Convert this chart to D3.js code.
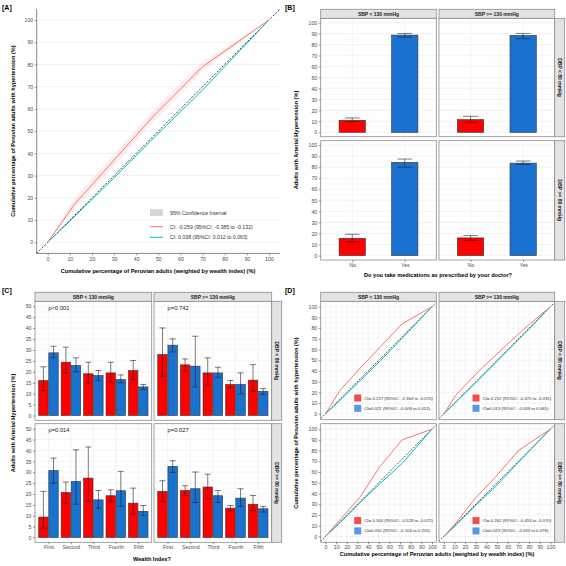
<!DOCTYPE html>
<html><head><meta charset="utf-8">
<script src="https://cdn.jsdelivr.net/npm/d3@7"></script>
<style>body{margin:0;background:#fff}text{font-family:"Liberation Sans",Arial,sans-serif}</style>
</head><body><svg id="c" width="566" height="566"></svg>
<script>
// ---------- DATA ----------
// Panel A (concentration curves)
const aX      = [0, 12, 30, 48, 70, 100];
const aRed    = [0, 17, 37, 57, 79, 100];
const aRedLo  = [0, 15, 34.5, 54.5, 77, 100];
const aRedHi  = [0, 19.5, 39.5, 59.5, 81, 100];
const aBlue   = [0, 11.5, 29, 47, 68.5, 100];
const aLegend = ["95% Confidence Interval", "CI: -0.259 (95%CI: -0.385 to -0.132)", "CI: 0.038 (95%CI: 0.012 to 0.063)"];
const axisTicks100 = [0,10,20,30,40,50,60,70,80,90,100];

// Facet labels
const sbpLevels = ["SBP < 130 mmHg", "SBP >= 130 mmHg"];
const dbpLevels = ["DBP < 80 mmHg", "DBP >= 80 mmHg"];

// Panel B: [row][col] -> [No, Yes]
const medCats = ["No", "Yes"];
const bVal = [[[11.0, 88.7], [11.6, 88.4]], [[15.6, 84.4], [16.0, 83.7]]];
const bLo  = [[[9.8, 86.9], [9.1, 85.4]],  [[12.3, 80.0], [13.8, 82.5]]];
const bHi  = [[[13.1, 90.2], [14.6, 90.2]], [[19.3, 87.4], [18.1, 85.6]]];

// Panel C: [row][col] -> per wealth quintile
const wealthCats = ["First", "Second", "Third", "Fourth", "Fifth"];
const cTicks = [0,5,10,15,20,25,30,35,40,45,50];
const cRedVal = [[[16,24.4,19.1,19.5,20.6],[27.9,23.2,19.5,14.2,16.2]],[[9.4,20.7,27.3,19.2,15.8],[21.2,21.6,23.2,13.5,15.3]]];
const cRedLo  = [[[11.4,19.5,14.5,15.4,16.5],[18,20.3,13.9,12.7,11.1]],[[4.3,15.8,16.6,16.6,10.7],[16.6,19.3,17.8,12.3,12.4]]];
const cRedHi  = [[[22.3,31.3,24.4,24.4,25.2],[40.1,25.9,26.4,16,23.3]],[[21.2,25.5,41.6,21.9,22.7],[26.1,23.8,29.1,14.7,19.3]]];
const cBlueVal = [[[28.7,22.9,18.3,16.5,13.1],[32.2,22.6,19.5,14.2,11.1]],[[30.8,25.8,17.3,21.5,12],[32.7,22.4,19.2,18.1,13.2]]];
const cBlueLo  = [[[26.4,20,16,15,11.9],[29.1,13.1,17.5,9.9,9.6]],[[25,15.3,13.5,14.3,10.1],[29.9,16.1,16.1,14.3,11.7]]];
const cBlueHi  = [[[31.7,26.4,20.6,18.6,14.2],[35.1,36.3,22.1,19.5,12.3]],[[36.5,40.3,21.6,30.4,14.7],[35.3,30.1,21.6,22.4,14.3]]];
const cPvals = [["p<0.001", "p=0.742"], ["p=0.014", "p=0.027"]];

// Panel D: [row][col]
const dX    = [[[0,13,31,52,72,100],[0,11,30,50,75,100]],[[0,14,32,51,72,100],[0,11,30,50,70,100]]];
const dRed  = [[[0,21,41,63,84,100],[0,17,37,56,79,100]],[[0,16,36,65,90,100],[0,12,36,57,80,100]]];
const dBlue = [[[0,12,29.5,50,70.5,100],[0,10.5,29,49,74,100]],[[0,13,31,49,68,100],[0,10,29,48,69,100]]];
const dLegRed  = [["CI=-0.217 (95%IC: -0.364 to -0.070)","CI=-0.252 (95%IC: -0.470 to -0.035)"],["CI=-0.300 (95%IC: -0.528 to -0.072)","CI=-0.262 (95%IC: -0.453 to -0.070)"]];
const dLegBlue = [["CI=0.021 (95%IC: -0.009 to 0.052)","CI=0.013 (95%IC: -0.039 to 0.065)"],["CI=0.050 (95%IC: -0.104 to 0.205)","CI=0.023 (95%IC: -0.033 to 0.078)"]];

// ---------- STYLE ----------
const RED_LINE = "#F8766D", BLUE_LINE = "#00BFC4";
const RED_BAR = "#ff0000", BLUE_BAR = "#1a72d0";
const TICK_COL = "#4d4d4d", GRID = "#ebebeb", GRID_MIN = "#f5f5f5";
const BORDER = "#8c8c8c", STRIP_FILL = "#e3e3e3";

const svg = d3.select("#c");
svg.append("rect").attr("width",566).attr("height",566).attr("fill","#fff");

function label(x,y,t){ svg.append("text").attr("x",x).attr("y",y).attr("font-size",7).attr("font-weight","bold").text(t); }
label(2,10,"[A]"); label(285,10,"[B]"); label(2,293,"[C]"); label(285,293,"[D]");

function styleAxis(g){
  g.select(".domain").remove();
  g.selectAll(".tick line").attr("stroke","#333").attr("stroke-width",0.5);
  g.selectAll(".tick text").attr("fill",TICK_COL).attr("font-size",5.2);
}
const line = d3.line();

// ---------- PANEL A ----------
(function(){
  const x = d3.scaleLinear().domain([-5,105]).range([36.7,280]);
  const y = d3.scaleLinear().domain([-5,105]).range([253.4,8.9]);
  const g = svg.append("g");
  g.selectAll(".gl").data(axisTicks100).join("line")
    .attr("x1",36.7).attr("x2",280).attr("y1",d=>y(d)).attr("y2",d=>y(d))
    .attr("stroke",GRID).attr("stroke-width",0.7);
  // ribbon
  const area = d3.area().x((d,i)=>x(aX[i])).y0((d,i)=>y(aRedLo[i])).y1((d,i)=>y(aRedHi[i]));
  g.append("path").datum(aX).attr("d",area).attr("fill",RED_LINE).attr("opacity",0.13);
  g.append("path").attr("d",line([[x(-5),y(-5)],[x(105),y(105)]])).attr("stroke","#222").attr("stroke-width",0.9).attr("stroke-dasharray","2,1.6").attr("fill","none");
  g.append("path").attr("d",line(aX.map((v,i)=>[x(v),y(aBlue[i])]))).attr("stroke",BLUE_LINE).attr("stroke-width",1).attr("fill","none");
  g.append("path").attr("d",line(aX.map((v,i)=>[x(v),y(aRed[i])]))).attr("stroke",RED_LINE).attr("stroke-width",1).attr("fill","none");
  const ax = g.append("g").attr("transform","translate(0,253.4)").call(d3.axisBottom(x).tickValues(axisTicks100).tickSize(2).tickPadding(1.5));
  styleAxis(ax);
  const ay = g.append("g").attr("transform","translate(36.7,0)").call(d3.axisLeft(y).tickValues(axisTicks100).tickSize(2).tickPadding(1.5));
  styleAxis(ay);
  g.append("line").attr("x1",36.7).attr("x2",36.7).attr("y1",8.9).attr("y2",253.4).attr("stroke","#555").attr("stroke-width",0.7);
  g.append("line").attr("x1",36.7).attr("x2",280).attr("y1",253.4).attr("y2",253.4).attr("stroke","#555").attr("stroke-width",0.7);
  g.append("text").attr("x",158).attr("y",273).attr("text-anchor","middle").attr("font-size",5.6).attr("font-weight","bold").text("Cumulative percentage of Peruvian adults (weighted by wealth index) (%)");
  g.append("text").attr("transform","translate(15,131) rotate(-90)").attr("text-anchor","middle").attr("font-size",5.6).attr("font-weight","bold").text("Cumulative percentage of Peruvian adults with hypertension (%)");
  // legend
  g.append("rect").attr("x",150).attr("y",209).attr("width",13).attr("height",7).attr("fill","#d6d6d6");
  g.append("line").attr("x1",150).attr("x2",163).attr("y1",226.7).attr("y2",226.7).attr("stroke",RED_LINE).attr("stroke-width",1);
  g.append("line").attr("x1",150).attr("x2",163).attr("y1",237.3).attr("y2",237.3).attr("stroke",BLUE_LINE).attr("stroke-width",1);
  [214.7,228.7,239.3].forEach((yy,i)=>g.append("text").attr("x",170).attr("y",yy).attr("font-size",5.2).attr("fill","#333").text(aLegend[i]));
})();

// ---------- FACET HELPER ----------
function facet(cfg){
  const g = svg.append("g");
  const panels = [];
  cfg.rows.forEach((ry,r)=>{
    cfg.cols.forEach((cx,c)=>{
      const y = d3.scaleLinear().domain(cfg.yDomain).range([ry[1],ry[0]]);
      const p = {r,c,x0:cx[0],x1:cx[1],y0:ry[0],y1:ry[1],y,g:g.append("g")};
      p.g.append("rect").attr("x",cx[0]).attr("y",ry[0]).attr("width",cx[1]-cx[0]).attr("height",ry[1]-ry[0]).attr("fill","#fff");
      // minor grid
      cfg.yMinor.forEach(v=>p.g.append("line").attr("x1",cx[0]).attr("x2",cx[1]).attr("y1",y(v)).attr("y2",y(v)).attr("stroke",GRID_MIN).attr("stroke-width",0.5));
      cfg.yMajor.forEach(v=>p.g.append("line").attr("x1",cx[0]).attr("x2",cx[1]).attr("y1",y(v)).attr("y2",y(v)).attr("stroke",GRID).attr("stroke-width",0.6));
      panels.push(p);
      if(c===0){
        const ay = g.append("g").attr("transform",`translate(${cx[0]},0)`).call(d3.axisLeft(y).tickValues(cfg.yMajor).tickSize(2).tickPadding(1.5));
        styleAxis(ay);
      }
    });
  });
  // top strips
  cfg.cols.forEach((cx,c)=>{
    g.append("rect").attr("x",cx[0]).attr("y",cfg.strip[0]).attr("width",cx[1]-cx[0]).attr("height",cfg.strip[1]-cfg.strip[0]).attr("fill",STRIP_FILL).attr("stroke",BORDER).attr("stroke-width",0.8);
    g.append("text").attr("x",(cx[0]+cx[1])/2).attr("y",(cfg.strip[0]+cfg.strip[1])/2+1.8).attr("text-anchor","middle").attr("font-size",5).attr("font-weight","bold").attr("fill","#222").text(sbpLevels[c]);
  });
  cfg.rows.forEach((ry,r)=>{
    g.append("rect").attr("x",cfg.side[0]).attr("y",ry[0]).attr("width",cfg.side[1]-cfg.side[0]).attr("height",ry[1]-ry[0]).attr("fill",STRIP_FILL).attr("stroke",BORDER).attr("stroke-width",0.8);
    const cxm=(cfg.side[0]+cfg.side[1])/2, cym=(ry[0]+ry[1])/2;
    g.append("text").attr("transform",`translate(${cxm-1.8},${cym}) rotate(90)`).attr("text-anchor","middle").attr("font-size",5).attr("font-weight","bold").attr("fill","#222").text(dbpLevels[r]);
  });
  g.append("text").attr("x",cfg.xTitle[0]).attr("y",cfg.xTitle[1]).attr("text-anchor","middle").attr("font-size",5.6).attr("font-weight","bold").text(cfg.xTitle[2]);
  g.append("text").attr("transform",`translate(${cfg.yTitle[0]},${cfg.yTitle[1]}) rotate(-90)`).attr("text-anchor","middle").attr("font-size",5.6).attr("font-weight","bold").text(cfg.yTitle[2]);
  return {g,panels,cfg};
}
function borders(f){
  f.panels.forEach(p=>p.g.append("rect").attr("x",p.x0).attr("y",p.y0).attr("width",p.x1-p.x0).attr("height",p.y1-p.y0).attr("fill","none").attr("stroke",BORDER).attr("stroke-width",0.8));
}
function errbar(g,xc,w,ylo,yhi){
  g.append("line").attr("x1",xc).attr("x2",xc).attr("y1",ylo).attr("y2",yhi).attr("stroke","#222").attr("stroke-width",0.6);
  [ylo,yhi].forEach(v=>g.append("line").attr("x1",xc-w/2).attr("x2",xc+w/2).attr("y1",v).attr("y2",v).attr("stroke","#222").attr("stroke-width",0.6));
}

// ---------- PANEL B ----------
(function(){
  const f = facet({cols:[[320.7,436.3],[439,554.7]], rows:[[18.3,136.7],[140.7,260]], strip:[9.3,18.3], side:[554.7,564.7],
    yDomain:[-4,104], yMajor:axisTicks100, yMinor:d3.range(5,100,10),
    xTitle:[438,277,"Do you take medications as prescribed by your doctor?"], yTitle:[298,140,"Adults with Arterial Hypertension (%)"]});
  f.panels.forEach(p=>{
    const x = d3.scalePoint().domain(medCats).range([p.x0,p.x1]).padding(0.6);
    const step = x.step();
    medCats.forEach(cat=>p.g.append("line").attr("x1",x(cat)).attr("x2",x(cat)).attr("y1",p.y0).attr("y2",p.y1).attr("stroke",GRID).attr("stroke-width",0.6));
    medCats.forEach((cat,i)=>{
      const v=bVal[p.r][p.c][i];
      p.g.append("rect").attr("x",x(cat)-step*0.25).attr("width",step*0.5).attr("y",p.y(v)).attr("height",p.y(0)-p.y(v))
        .attr("fill",i===0?RED_BAR:BLUE_BAR).attr("stroke","#333").attr("stroke-width",0.6);
      errbar(p.g,x(cat),step*0.28,p.y(bLo[p.r][p.c][i]),p.y(bHi[p.r][p.c][i]));
    });
    if(p.r===1){
      const ax=f.g.append("g").attr("transform",`translate(0,${p.y1})`).call(d3.axisBottom(x).tickSize(2).tickPadding(1.5));
      styleAxis(ax);
    }
  });
  borders(f);
})();

// ---------- PANEL C ----------
(function(){
  const f = facet({cols:[[35,151.7],[154,271.7]], rows:[[301.3,420.3],[423.7,542.3]], strip:[292.3,301.3], side:[271.7,281.7],
    yDomain:[-2.2,52.3], yMajor:cTicks, yMinor:d3.range(2.5,50,5),
    xTitle:[152,561,"Wealth Index?"], yTitle:[15,423,"Adults with Arterial Hypertension (%)"]});
  f.panels.forEach(p=>{
    const x = d3.scalePoint().domain(wealthCats).range([p.x0,p.x1]).padding(0.6);
    const step = x.step();
    wealthCats.forEach(cat=>p.g.append("line").attr("x1",x(cat)).attr("x2",x(cat)).attr("y1",p.y0).attr("y2",p.y1).attr("stroke",GRID).attr("stroke-width",0.6));
    const series=[[cRedVal,cRedLo,cRedHi,RED_BAR,-0.225],[cBlueVal,cBlueLo,cBlueHi,BLUE_BAR,0.225]];
    series.forEach(([V,L,H,col,off])=>{
      wealthCats.forEach((cat,i)=>{
        const v=V[p.r][p.c][i], xc=x(cat)+off*step;
        p.g.append("rect").attr("x",xc-step*0.21).attr("width",step*0.42).attr("y",p.y(v)).attr("height",p.y(0)-p.y(v))
          .attr("fill",col).attr("stroke","#333").attr("stroke-width",0.6);
      });
    });
    series.forEach(([V,L,H,col,off])=>{
      wealthCats.forEach((cat,i)=>{
        const xc=x(cat)+off*step;
        errbar(p.g,xc,step*0.27,p.y(L[p.r][p.c][i]),p.y(H[p.r][p.c][i]));
      });
    });
    p.g.append("text").attr("x",x(wealthCats[0])).attr("y",p.y0+8.5).attr("font-size",5.8).attr("fill","#222").text(cPvals[p.r][p.c]);
    if(p.r===1){
      const ax=f.g.append("g").attr("transform",`translate(0,${p.y1})`).call(d3.axisBottom(x).tickSize(2).tickPadding(1.5));
      styleAxis(ax);
    }
  });
  borders(f);
})();

// ---------- PANEL D ----------
(function(){
  const f = facet({cols:[[320.7,436.3],[439,554.7]], rows:[[301.3,419.7],[423.7,542.3]], strip:[292.3,301.3], side:[554.7,564.7],
    yDomain:[-5.5,105], yMajor:axisTicks100, yMinor:d3.range(5,100,10),
    xTitle:[437,556,"Cumulative percentage of Peruvian adults (weighted by wealth index) (%)"], yTitle:[298,423,"Cumulative percentage of Peruvian adults with hypertension (%)"]});
  f.panels.forEach(p=>{
    const x = d3.scaleLinear().domain([-4.5,104]).range([p.x0,p.x1]);
    d3.range(5,100,10).forEach(v=>p.g.append("line").attr("x1",x(v)).attr("x2",x(v)).attr("y1",p.y0).attr("y2",p.y1).attr("stroke",GRID_MIN).attr("stroke-width",0.5));
    axisTicks100.forEach(v=>p.g.append("line").attr("x1",x(v)).attr("x2",x(v)).attr("y1",p.y0).attr("y2",p.y1).attr("stroke",GRID).attr("stroke-width",0.6));
    p.g.append("path").attr("d",line([[x(-4.5),p.y(-4.5)],[x(104),p.y(104)]])).attr("stroke","#222").attr("stroke-width",0.8).attr("stroke-dasharray","1.8,1.4").attr("fill","none");
    const X=dX[p.r][p.c];
    p.g.append("path").attr("d",line(X.map((v,i)=>[x(v),p.y(dBlue[p.r][p.c][i])]))).attr("stroke",BLUE_LINE).attr("stroke-width",1).attr("fill","none");
    p.g.append("path").attr("d",line(X.map((v,i)=>[x(v),p.y(dRed[p.r][p.c][i])]))).attr("stroke",RED_LINE).attr("stroke-width",1).attr("fill","none");
    // legend
    const lx=p.x0+33.5, ly=p.y1-25.2;
    p.g.append("rect").attr("x",lx).attr("y",ly).attr("width",7).attr("height",7).attr("fill","#f54b4b");
    p.g.append("rect").attr("x",lx).attr("y",ly+10.3).attr("width",7).attr("height",7).attr("fill","#5599e0");
    p.g.append("text").attr("x",lx+10).attr("y",ly+5).attr("font-size",4.3).attr("fill","#333").text(dLegRed[p.r][p.c]);
    p.g.append("text").attr("x",lx+10).attr("y",ly+15.3).attr("font-size",4.3).attr("fill","#333").text(dLegBlue[p.r][p.c]);
    if(p.r===1){
      const ax=f.g.append("g").attr("transform",`translate(0,${p.y1})`).call(d3.axisBottom(x).tickValues(axisTicks100).tickSize(2).tickPadding(1.5));
      styleAxis(ax);
    }
  });
  borders(f);
})();
</script></body></html>
